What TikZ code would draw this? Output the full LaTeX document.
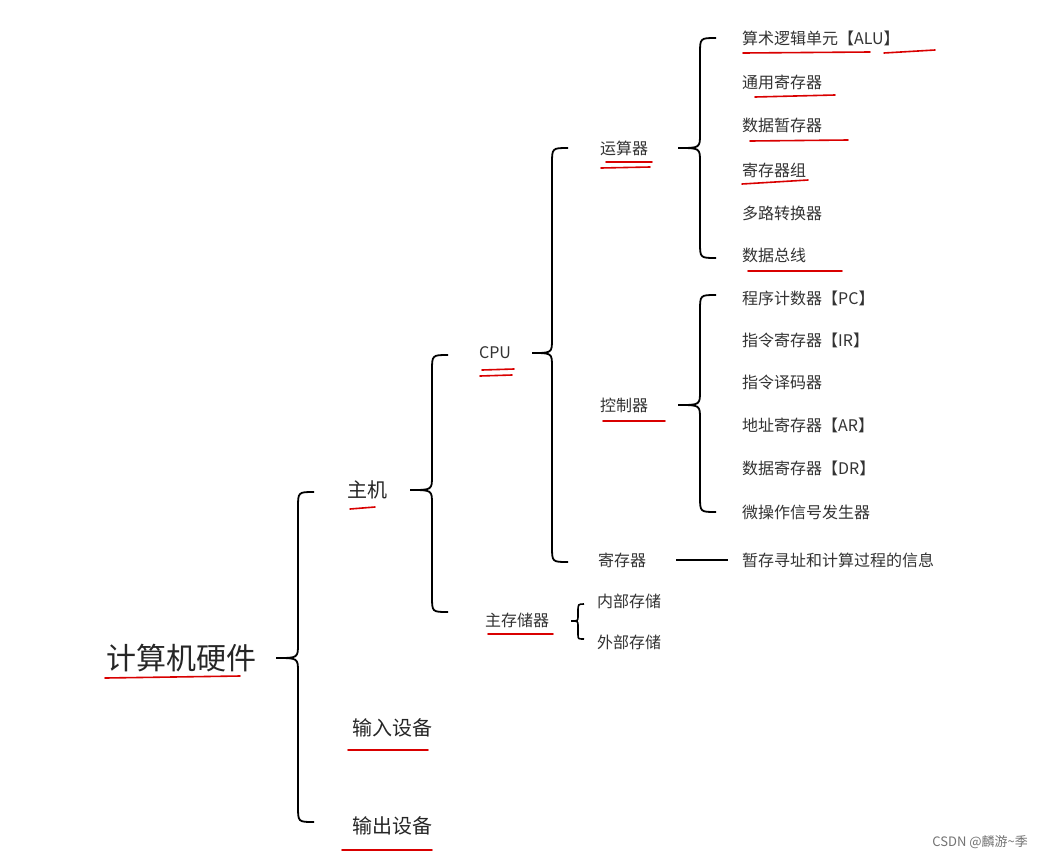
\documentclass[tikz,border=0pt]{standalone}
\usepackage{fontspec}
\setmainfont{Noto Sans CJK SC}
\begin{document}
\begin{tikzpicture}[x=1pt,y=-1pt,
  lbl/.style={inner sep=0pt,text=black!80,font=\fontsize{16}{18}\selectfont},
  item/.style={lbl,anchor=west},
  mid/.style={lbl,font=\fontsize{20}{22}\selectfont,text=black!85},
  ul/.style={draw=red!85!black,line width=1.6pt,line cap=round},
  br/.style={draw=black,line width=1.8pt}]
\useasboundingbox[fill=white] (0,0) rectangle (1043,860);
\newcommand{\brc}[5]{% x top bottom mid tipx
  \draw[br] (#1+16,#2) .. controls (#1,#2) .. (#1,#2+16) -- (#1,#4-14) .. controls (#1,#4) .. (#5,#4) .. controls (#1,#4) .. (#1,#4+14) -- (#1,#3-16) .. controls (#1,#3) .. (#1+16,#3);}
\node[lbl,font=\fontsize{30}{32}\selectfont,text=black!85] (root) at (181,658) {计算机硬件};
\node[mid] (host) at (367,490) {主机};
\node[mid] (in) at (392,728) {输入设备};
\node[mid] (out) at (392,826) {输出设备};
\node[lbl] (cpu) at (495,353) {CPU};
\node[lbl] (mem) at (517,620) {主存储器};
\node[lbl] (alu) at (624,148) {运算器};
\node[lbl] (cu) at (624,405) {控制器};
\node[lbl] (reg) at (622,560) {寄存器};
\node[item] (a1) at (742,38) {算术逻辑单元【ALU】};
\node[item] (a2) at (742,82) {通用寄存器};
\node[item] (a3) at (742,125) {数据暂存器};
\node[item] (a4) at (742,170) {寄存器组};
\node[item] (a5) at (742,213) {多路转换器};
\node[item] (a6) at (742,255) {数据总线};
\node[item] (c1) at (742,298) {程序计数器【PC】};
\node[item] (c2) at (742,340) {指令寄存器【IR】};
\node[item] (c3) at (742,382) {指令译码器};
\node[item] (c4) at (742,425) {地址寄存器【AR】};
\node[item] (c5) at (742,468) {数据寄存器【DR】};
\node[item] (c6) at (742,512) {微操作信号发生器};
\node[item] (r1) at (742,560) {暂存寻址和计算过程的信息};
\node[item] (m1) at (597,601) {内部存储};
\node[item] (m2) at (597,642) {外部存储};
\draw[line width=1.8pt] (reg.east)+(30,0) coordinate (rl) -- ([xshift=-14pt]r1.west) coordinate (rr);
\brc{298}{492}{822}{658}{276}
\brc{432}{355}{612}{490}{410}
\brc{552}{148}{562}{353}{532}
\brc{700}{38}{258}{148}{678}
\brc{700}{295}{512}{405}{678}
\draw[black,line width=1.6pt] (584,604) .. controls (578,604) .. (578,612) -- (578,616) .. controls (578,621) .. (571,621) .. controls (578,621) .. (578,626) -- (578,634) .. controls (578,639) .. (584,639);
\draw[ul] (105,678) -- (240,676);
\draw[ul] (350,509) -- (375,507);
\draw[ul] (348,750) -- (428,750);
\draw[ul] (342,850) -- (432,850);
\draw[ul] (482,370) -- (514,369);
\draw[ul] (480,376) -- (512,375);
\draw[ul] (488,634) -- (553,634);
\draw[ul] (606,162) -- (652,162);
\draw[ul] (601,168) -- (650,167);
\draw[ul] (603,421) -- (665,421);
\draw[ul] (743,53) -- (870,52);
\draw[ul] (884,53) -- (935,50);
\draw[ul] (755,97) -- (835,95);
\draw[ul] (750,141) -- (848,140);
\draw[ul] (742,184) -- (808,180);
\draw[ul] (748,271) -- (842,271);
\node[anchor=east,inner sep=0pt,text=black!55,font=\fontsize{13}{14}\selectfont] (wm) at (1028,842) {CSDN @麟游\textasciitilde 季};
\end{tikzpicture}
\end{document}
